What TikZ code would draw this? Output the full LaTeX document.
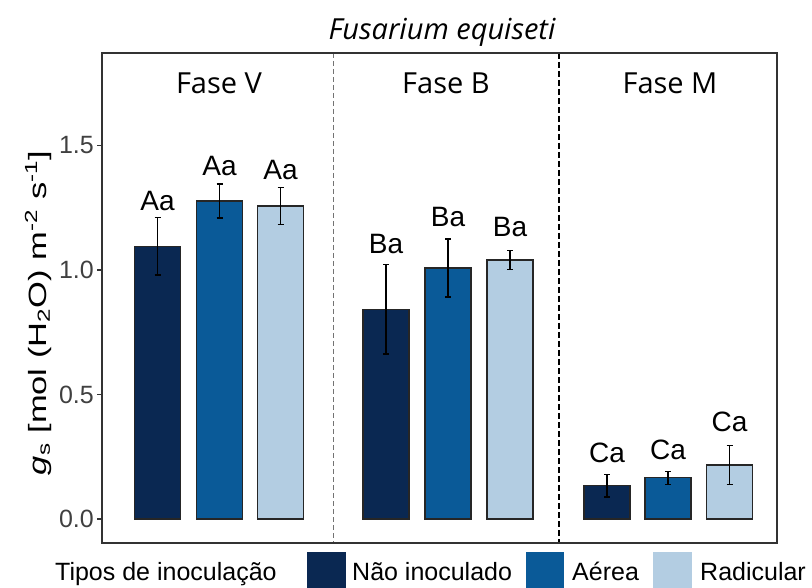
\documentclass[tikz,border=0pt]{standalone}
\usepackage{fontspec}
\setmainfont{Liberation Sans}
\newfontfamily\opensans{Open Sans}
\definecolor{cdark}{HTML}{0A2852}
\definecolor{cmid}{HTML}{0A5A98}
\definecolor{clight}{HTML}{B3CDE2}
\definecolor{frame}{HTML}{333333}
\begin{document}
\begin{tikzpicture}[x=1pt,y=-1pt,
  barbox/.style={draw=black!85,line width=1.1pt},
  errbar/.style={draw=black,line width=1.4pt},
  barlab/.style={inner sep=0pt,font=\fontsize{28}{28}\selectfont},
  ticklab/.style={inner sep=0pt,anchor=east,text=black!75,font=\fontsize{25}{25}\selectfont},
  striplab/.style={inner sep=0pt,font=\opensans\fontsize{29}{29}\selectfont},
  leglab/.style={inner sep=0pt,anchor=base west,font=\fontsize{25}{25}\selectfont},
  legkey/.style={minimum height=36pt,inner sep=0pt,anchor=north west}]
\useasboundingbox (0,0) rectangle (812,588);
% title
\node[inner sep=0pt,font=\opensans\itshape\fontsize{29}{29}\selectfont] (title) at (442,32) {Fusarium equiseti};
% frame
\coordinate (tl) at (102,53);
\coordinate (br) at (777,543);
\coordinate (d1t) at (333,53);
\coordinate (d1b) at (333,543);
\coordinate (d2t) at (559,53);
\coordinate (d2b) at (559,543);
\draw[draw=black!55,line width=1pt,dash pattern=on 5pt off 3pt] (d1t) -- (d1b);
\draw[draw=black,line width=1.6pt,dash pattern=on 6pt off 3pt] (d2t) -- (d2b);
% strip labels
\node[striplab] (sV) at (219,83) {Fase V};
\node[striplab] (sB) at (446,83) {Fase B};
\node[striplab] (sM) at (670,83) {Fase M};
% bars
\foreach \xc/\val/\er/\col/\lab/\ly [count=\i] in {
  157.5/1.096/0.116/cdark/Aa/201, 219.5/1.277/0.068/cmid/Aa/166, 280.5/1.257/0.074/clight/Aa/170,
  386/0.843/0.18/cdark/Ba/244, 448/1.008/0.116/cmid/Ba/217, 510/1.040/0.038/clight/Ba/227,
  607/0.133/0.045/cdark/Ca/453, 668/0.165/0.026/cmid/Ca/450, 729.5/0.217/0.078/clight/Ca/422}{
  \draw[barbox,fill=\col] ({\xc-23},519) rectangle ({\xc+23},{519-249*\val});
  \coordinate (et\i) at (\xc,{519-249*(\val+\er)});
  \coordinate (eb\i) at (\xc,{519-249*(\val-\er)});
  \draw[errbar] (et\i) -- (eb\i);
  \draw[errbar] ([xshift=-3pt]et\i) -- ([xshift=3pt]et\i);
  \draw[errbar] ([xshift=-3pt]eb\i) -- ([xshift=3pt]eb\i);
  \node[barlab] (lab\i) at (\xc,\ly) {\lab};
}
\draw[draw=frame,line width=1.8pt] (tl) rectangle (br);
% y axis ticks
\foreach \v/\t [count=\j] in {0/0.0,0.5/0.5,1/1.0,1.5/1.5}{
  \coordinate (tk\j) at (102,{519-249*\v});
  \draw[draw=frame,line width=1.2pt] ([xshift=-5pt]tk\j) -- (tk\j);
  \node[ticklab] (tlab\j) at ([xshift=-8pt]tk\j) {\t};
}
% y label
\node[inner sep=0pt,rotate=90,font=\fontsize{25}{25}\selectfont] (ylab) at (38,313)
  {\scalebox{1.38}[1]{\itshape g\textsubscript{\upshape s}\upshape\ [mol (H\textsubscript{2}O) m\textsuperscript{-2} s\textsuperscript{-1}]}};
% legend
\node[leglab] (legt) at (55,580) {Tipos de inoculação};
\node[legkey,fill=cdark,minimum width=39pt] (k1) at (307,552) {};
\node[leglab] (l1) at (352,580) {Não inoculado};
\node[legkey,fill=cmid,minimum width=38pt] (k2) at (526,552) {};
\node[leglab] (l2) at (572,580) {Aérea};
\node[legkey,fill=clight,minimum width=39pt] (k3) at (653,552) {};
\node[leglab] (l3) at (700,580) {Radicular};
\end{tikzpicture}
\end{document}
